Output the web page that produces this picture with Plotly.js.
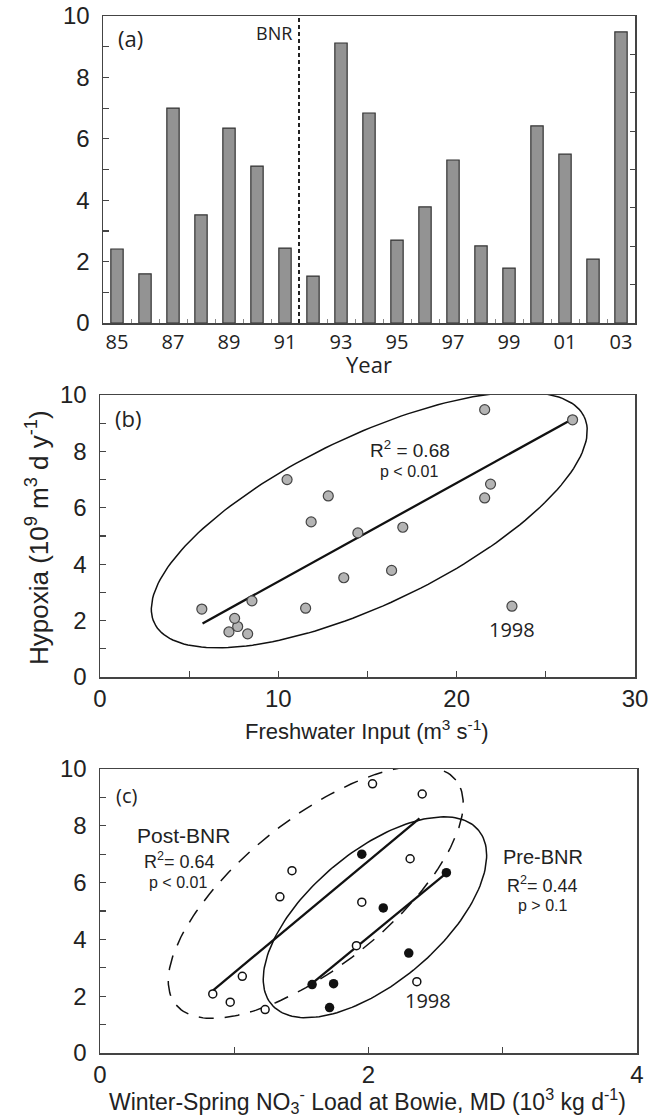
<!DOCTYPE html>
<html>
<head>
<meta charset="utf-8">
<script src="https://cdn.plot.ly/plotly-3.0.1.min.js"></script>
<style>
  html, body { margin: 0; padding: 0; background: #fff; }
  #chart { width: 660px; height: 1117px; }
</style>
</head>
<body>
<div id="chart"></div>
<script>
// ---------------- data ----------------
const years = [1985, 1986, 1987, 1988, 1989, 1990, 1991, 1992, 1993, 1994,
               1995, 1996, 1997, 1998, 1999, 2000, 2001, 2002, 2003];
// hypoxic volume (10^9 m^3 d y^-1)
const hypoxia = [2.41, 1.60, 7.00, 3.52, 6.35, 5.11, 2.44, 1.53, 9.12, 6.84,
                 2.70, 3.78, 5.31, 2.51, 1.79, 6.42, 5.50, 2.08, 9.48];
// freshwater input (m^3 s^-1)
const freshwater = [5.71, 7.23, 10.49, 13.67, 21.57, 14.46, 11.53, 8.28, 26.5, 21.9,
                    8.52, 16.35, 16.98, 23.1, 7.72, 12.8, 11.84, 7.55, 21.57];
// winter-spring NO3- load at Bowie (10^3 kg d^-1)
const nitrate = [1.58, 1.71, 1.95, 2.30, 2.58, 2.11, 1.74, 1.23, 2.40, 2.31,
                 1.06, 1.91, 1.95, 2.36, 0.97, 1.43, 1.34, 0.84, 2.03];

const yearTickVals = [1985, 1987, 1989, 1991, 1993, 1995, 1997, 1999, 2001, 2003];
const yearTickText = ['85', '87', '89', '91', '93', '95', '97', '99', '01', '03'];
const bnrYear = 1991.5;

// regression lines (end points)
const fitFreshX = [5.75, 26.5];
const fitFreshY = [1.9, 9.15];
const fitPostX = [0.84, 2.38];
const fitPostY = [2.2, 8.26];
const fitPreX = [1.58, 2.58];
const fitPreY = [2.45, 6.33];

// ellipses: centre, and two conjugate semi-diameter vectors (data units)
const ellFresh = [15.1, 5.57, 12.05, 3.66, -2.05, 2.68];
const ellPre   = [2.048, 4.78, 0.771, 3.068, -0.313, 1.759];
const ellPost  = [1.607, 5.66, 1.0435, 3.953, -0.343, 2.024];

// ---------------- helpers ----------------
function ellipse(p) {
  const xs = [], ys = [];
  for (let i = 0; i <= 180; i++) {
    const t = 2 * Math.PI * i / 180;
    xs.push(p[0] + p[2] * Math.cos(t) + p[4] * Math.sin(t));
    ys.push(p[1] + p[3] * Math.cos(t) + p[5] * Math.sin(t));
  }
  return {x: xs, y: ys};
}

const preIdx = years.map((y, i) => i).filter(i => years[i] < bnrYear);
const postIdx = years.map((y, i) => i).filter(i => years[i] > bnrYear);

const W = 660, H = 1117;
const dom = (a, b) => [a / W, b / W];
const vdom = (top, bottom) => [1 - bottom / H, 1 - top / H];

const AX = '#444';
const FONT = 'Liberation Sans, Arial, sans-serif';
const HFONT = 'Open Sans, Liberation Sans, sans-serif';

const eB = ellipse(ellFresh), ePre = ellipse(ellPre), ePost = ellipse(ellPost);

const traces = [
  // (a) bars
  {type: 'bar', x: years, y: hypoxia, xaxis: 'x', yaxis: 'y', width: 0.44,
   marker: {color: '#939393', line: {color: '#333', width: 1.2}},
   hoverinfo: 'x+y', showlegend: false},
  // helper for right-side tick axis of (a)
  {type: 'scatter', x: [years[0]], y: [0], xaxis: 'x', yaxis: 'y4', mode: 'markers',
   marker: {opacity: 0}, hoverinfo: 'skip', showlegend: false},

  // (b)
  {type: 'scatter', x: eB.x, y: eB.y, xaxis: 'x2', yaxis: 'y2', mode: 'lines',
   line: {color: '#111', width: 1.5}, hoverinfo: 'skip', showlegend: false},
  {type: 'scatter', x: fitFreshX, y: fitFreshY, xaxis: 'x2', yaxis: 'y2', mode: 'lines',
   line: {color: '#111', width: 2.3}, hoverinfo: 'skip', showlegend: false},
  {type: 'scatter', x: freshwater, y: hypoxia, xaxis: 'x2', yaxis: 'y2', mode: 'markers',
   marker: {size: 10, color: '#b4b4b4', line: {color: '#444', width: 1.2}},
   text: years.map(String), showlegend: false},

  // (c)
  {type: 'scatter', x: ePost.x, y: ePost.y, xaxis: 'x3', yaxis: 'y3', mode: 'lines',
   line: {color: '#111', width: 1.5, dash: '15px,11px'}, hoverinfo: 'skip', showlegend: false},
  {type: 'scatter', x: ePre.x, y: ePre.y, xaxis: 'x3', yaxis: 'y3', mode: 'lines',
   line: {color: '#111', width: 1.5}, hoverinfo: 'skip', showlegend: false},
  {type: 'scatter', x: fitPostX, y: fitPostY, xaxis: 'x3', yaxis: 'y3', mode: 'lines',
   line: {color: '#111', width: 2.3}, hoverinfo: 'skip', showlegend: false},
  {type: 'scatter', x: fitPreX, y: fitPreY, xaxis: 'x3', yaxis: 'y3', mode: 'lines',
   line: {color: '#111', width: 2.3}, hoverinfo: 'skip', showlegend: false},
  {type: 'scatter', x: postIdx.map(i => nitrate[i]), y: postIdx.map(i => hypoxia[i]),
   xaxis: 'x3', yaxis: 'y3', mode: 'markers', name: 'Post-BNR',
   marker: {size: 8, color: '#fff', line: {color: '#111', width: 1.5}}, showlegend: false},
  {type: 'scatter', x: preIdx.map(i => nitrate[i]), y: preIdx.map(i => hypoxia[i]),
   xaxis: 'x3', yaxis: 'y3', mode: 'markers', name: 'Pre-BNR',
   marker: {size: 9.5, color: '#111', line: {color: '#111', width: 0}}, showlegend: false}
];

const tickFont = {family: FONT, size: 24, color: '#222'};
const baseAxis = {
  showline: true, linecolor: AX, linewidth: 1.5, mirror: true,
  showgrid: false, zeroline: false, ticks: 'inside', ticklen: 6, tickwidth: 1.2,
  tickcolor: AX, tickfont: tickFont, automargin: false, fixedrange: true
};
const yExtra = {ticklabelstandoff: 7};

const layout = {
  width: W, height: H,
  margin: {l: 0, r: 0, t: 0, b: 0},
  paper_bgcolor: '#fff', plot_bgcolor: '#fff',
  showlegend: false, bargap: 0,
  font: {family: FONT, color: '#222'},
  xaxis: Object.assign({}, baseAxis, {
    domain: dom(103, 635), anchor: 'y', range: [1984.5, 2003.5],
    tickmode: 'array', tickvals: yearTickVals, ticktext: yearTickText, ticklen: 0,
    tickfont: {family: HFONT, size: 20, color: '#222'}, ticklabelstandoff: 0,
    minor: {tickmode: 'array', tickvals: years.map(y => y - 0.5).concat([years[years.length - 1] + 0.5]),
            ticks: 'inside', ticklen: 4, tickcolor: '#888', tickwidth: 1}
  }),
  yaxis: Object.assign({}, baseAxis, yExtra, {
    domain: vdom(16, 323), anchor: 'x', range: [0, 10], dtick: 2, tick0: 0,
    minor: {dtick: 1, ticks: 'inside', ticklen: 6, tickcolor: AX, tickwidth: 1.2}
  }),
  yaxis4: {
    overlaying: 'y', side: 'right', anchor: 'x', range: [0, 10], tick0: 0, dtick: 1.25,
    ticks: 'inside', ticklen: 5, tickcolor: AX, tickwidth: 1.2, showticklabels: false,
    showline: false, showgrid: false, zeroline: false, fixedrange: true
  },
  xaxis2: Object.assign({}, baseAxis, {
    domain: dom(100, 635), anchor: 'y2', range: [0, 30], dtick: 10, tick0: 0,
    minor: {dtick: 5, ticks: 'inside', ticklen: 6, tickcolor: AX, tickwidth: 1.2}
  }),
  yaxis2: Object.assign({}, baseAxis, yExtra, {
    domain: vdom(395, 677), anchor: 'x2', range: [0, 10], dtick: 2, tick0: 0,
    minor: {dtick: 1, ticks: 'inside', ticklen: 6, tickcolor: AX, tickwidth: 1.2}
  }),
  xaxis3: Object.assign({}, baseAxis, {
    domain: dom(100, 637), anchor: 'y3', range: [0, 4], dtick: 2, tick0: 0,
    minor: {dtick: 1, ticks: 'inside', ticklen: 6, tickcolor: AX, tickwidth: 1.2}
  }),
  yaxis3: Object.assign({}, baseAxis, yExtra, {
    domain: vdom(769, 1053), anchor: 'x3', range: [0, 10], dtick: 2, tick0: 0,
    minor: {dtick: 1, ticks: 'inside', ticklen: 6, tickcolor: AX, tickwidth: 1.2}
  }),
  shapes: [
    {type: 'line', xref: 'x', yref: 'y domain', x0: bnrYear, x1: bnrYear, y0: 0, y1: 1,
     line: {color: '#222', width: 2, dash: '4px,3px'}}
  ],
  annotations: [
    // panel (a)
    {xref: 'paper', yref: 'paper', x: 116 / W, y: 1 - 38 / H, text: '(a)', showarrow: false,
     xanchor: 'left', yanchor: 'middle', font: {family: HFONT, size: 22, color: '#222'}},
    {xref: 'x', yref: 'paper', x: bnrYear, y: 1 - 33 / H, text: 'BNR', showarrow: false,
     xanchor: 'right', yanchor: 'middle', xshift: -5, font: {family: HFONT, size: 18, color: '#222'}},
    {xref: 'paper', yref: 'paper', x: 369 / W, y: 1 - 364 / H, text: 'Year', showarrow: false,
     xanchor: 'center', yanchor: 'middle', font: {family: HFONT, size: 22, color: '#222'}},
    // panel (b)
    {xref: 'paper', yref: 'paper', x: 113 / W, y: 1 - 418 / H, text: '(b)', showarrow: false,
     xanchor: 'left', yanchor: 'middle', font: {family: HFONT, size: 22, color: '#222'}},
    {xref: 'x2', yref: 'y2', x: 17.4, y: 8.08, text: 'R<sup>2</sup> = 0.68', showarrow: false,
     xanchor: 'center', yanchor: 'middle', font: {family: FONT, size: 19, color: '#222'}},
    {xref: 'x2', yref: 'y2', x: 17.3, y: 7.27, text: 'p < 0.01', showarrow: false,
     xanchor: 'center', yanchor: 'middle', font: {family: FONT, size: 16, color: '#222'}},
    {xref: 'x2', yref: 'y2', x: 23.1, y: 1.67, text: '1998', showarrow: false,
     xanchor: 'center', yanchor: 'middle', font: {family: HFONT, size: 20, color: '#222'}},
    {xref: 'paper', yref: 'paper', x: 367 / W, y: 1 - 730 / H,
     text: 'Freshwater Input (m<sup>3</sup> s<sup>-1</sup>)', showarrow: false,
     xanchor: 'center', yanchor: 'middle', font: {family: FONT, size: 22, color: '#222'}},
    {xref: 'paper', yref: 'paper', x: 37 / W, y: 1 - 538 / H, textangle: -90,
     text: 'Hypoxia (10<sup>9</sup> m<sup>3</sup> d y<sup>-1</sup>)', showarrow: false,
     xanchor: 'center', yanchor: 'middle', font: {family: FONT, size: 26, color: '#222'}},
    // panel (c)
    {xref: 'paper', yref: 'paper', x: 114 / W, y: 1 - 795 / H, text: '(c)', showarrow: false,
     xanchor: 'left', yanchor: 'middle', font: {family: HFONT, size: 20, color: '#222'}},
    {xref: 'paper', yref: 'paper', x: 183 / W, y: 1 - 835 / H, text: 'Post-BNR', showarrow: false,
     xanchor: 'center', yanchor: 'middle', font: {family: FONT, size: 21, color: '#222'}},
    {xref: 'paper', yref: 'paper', x: 179 / W, y: 1 - 860 / H, text: 'R<sup>2</sup>= 0.64', showarrow: false,
     xanchor: 'center', yanchor: 'middle', font: {family: FONT, size: 18, color: '#222'}},
    {xref: 'paper', yref: 'paper', x: 178 / W, y: 1 - 882 / H, text: 'p < 0.01', showarrow: false,
     xanchor: 'center', yanchor: 'middle', font: {family: FONT, size: 16, color: '#222'}},
    {xref: 'paper', yref: 'paper', x: 543 / W, y: 1 - 857 / H, text: 'Pre-BNR', showarrow: false,
     xanchor: 'center', yanchor: 'middle', font: {family: FONT, size: 20, color: '#222'}},
    {xref: 'paper', yref: 'paper', x: 542 / W, y: 1 - 884 / H, text: 'R<sup>2</sup>= 0.44', showarrow: false,
     xanchor: 'center', yanchor: 'middle', font: {family: FONT, size: 18, color: '#222'}},
    {xref: 'paper', yref: 'paper', x: 542 / W, y: 1 - 905 / H, text: 'p > 0.1', showarrow: false,
     xanchor: 'center', yanchor: 'middle', font: {family: FONT, size: 16, color: '#222'}},
    {xref: 'x3', yref: 'y3', x: 2.44, y: 1.85, text: '1998', showarrow: false,
     xanchor: 'center', yanchor: 'middle', font: {family: HFONT, size: 20, color: '#222'}},
    {xref: 'paper', yref: 'paper', x: 367 / W, y: 1 - 1101 / H,
     text: 'Winter-Spring NO<sub>3</sub><sup>-</sup> Load at Bowie, MD (10<sup>3</sup> kg d<sup>-1</sup>)',
     showarrow: false, xanchor: 'center', yanchor: 'middle', font: {family: FONT, size: 23, color: '#222'}}
  ]
};

Plotly.newPlot('chart', traces, layout, {displayModeBar: false, staticPlot: true});
</script>
</body>
</html>
